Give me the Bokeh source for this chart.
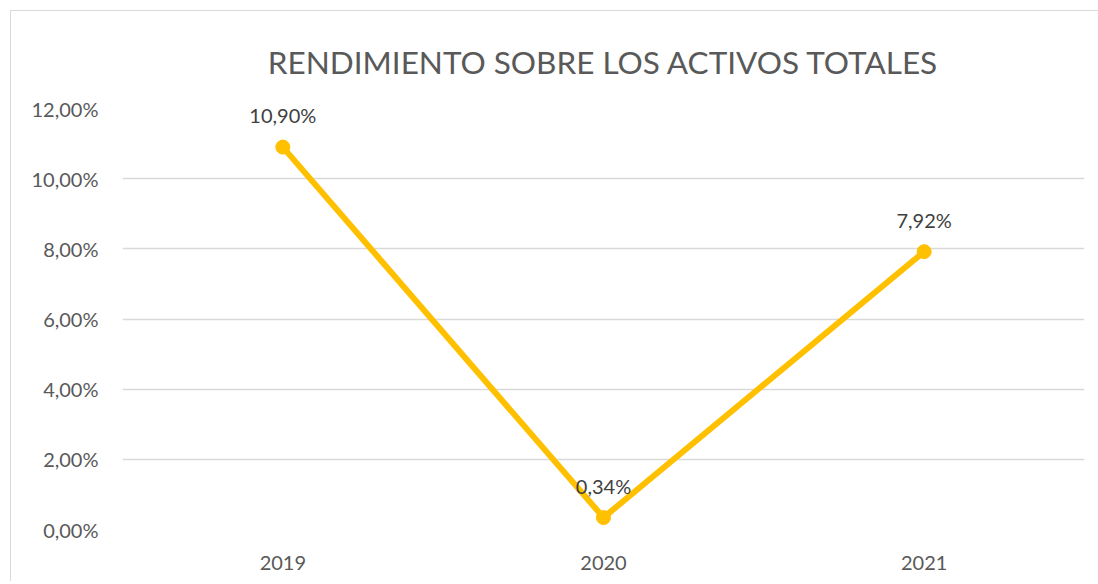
from bokeh.plotting import figure
from bokeh.models import ColumnDataSource, FactorRange, Range1d, FixedTicker, Title
from bokeh.core.properties import value
from bokeh.embed import file_html
from bokeh.resources import INLINE

years = ["2019", "2020", "2021"]
rates = [10.90, 0.34, 7.92]
rate_labels = ["10,90%", "0,34%", "7,92%"]
y_ticks = [0, 2, 4, 6, 8, 10, 12]
y_tick_labels = ["0,00%", "2,00%", "4,00%", "6,00%", "8,00%", "10,00%", "12,00%"]
title_text = "RENDIMIENTO SOBRE LOS ACTIVOS TOTALES"

FONT = "Lato"
src = ColumnDataSource(dict(x=years, y=rates, lab=rate_labels))

p = figure(x_range=FactorRange(*years, range_padding=0), y_range=Range1d(0, 12),
           frame_width=962, frame_height=421,
           min_border_left=111, min_border_right=14, min_border_top=97, min_border_bottom=52,
           output_backend="svg", toolbar_location=None)
p.margin = (10, 0, 0, 10)
p.styles = {"border-left": "1px solid #d9d9d9", "border-top": "1px solid #d9d9d9"}
p.outline_line_color = None
p.background_fill_color = "white"
p.border_fill_color = "white"

t = Title(text=title_text, align="center", text_font=FONT, text_font_size="31.5px",
          text_color="#595959", text_font_style="normal", standoff=56)
p.title = t

p.line("x", "y", source=src, line_color="#FFC000", line_width=6)
p.scatter("x", "y", source=src, size=14, fill_color="#FFC000", line_color="#FFC000")
p.text("x", "y", text="lab", source=src, y_offset=-32, text_align="center",
       text_baseline="middle", text_font=value(FONT), text_font_size="20px",
       text_color="#404040")

p.yaxis.ticker = FixedTicker(ticks=y_ticks)
p.yaxis.major_label_overrides = {t_: l for t_, l in zip(y_ticks, y_tick_labels)}
for ax in (p.xaxis, p.yaxis):
    ax.axis_line_color = None
    ax.major_tick_line_color = None
    ax.minor_tick_line_color = None
    ax.major_label_text_font = FONT
    ax.major_label_text_font_size = "20px"
    ax.major_label_text_color = "#595959"
p.yaxis.major_label_standoff = 18
p.xaxis.major_label_standoff = 20
p.xgrid.grid_line_color = None
p.ygrid.grid_line_color = "#d9d9d9"
p.ygrid.grid_line_width = 1.5

open("out.html", "w").write(file_html(p, INLINE))
